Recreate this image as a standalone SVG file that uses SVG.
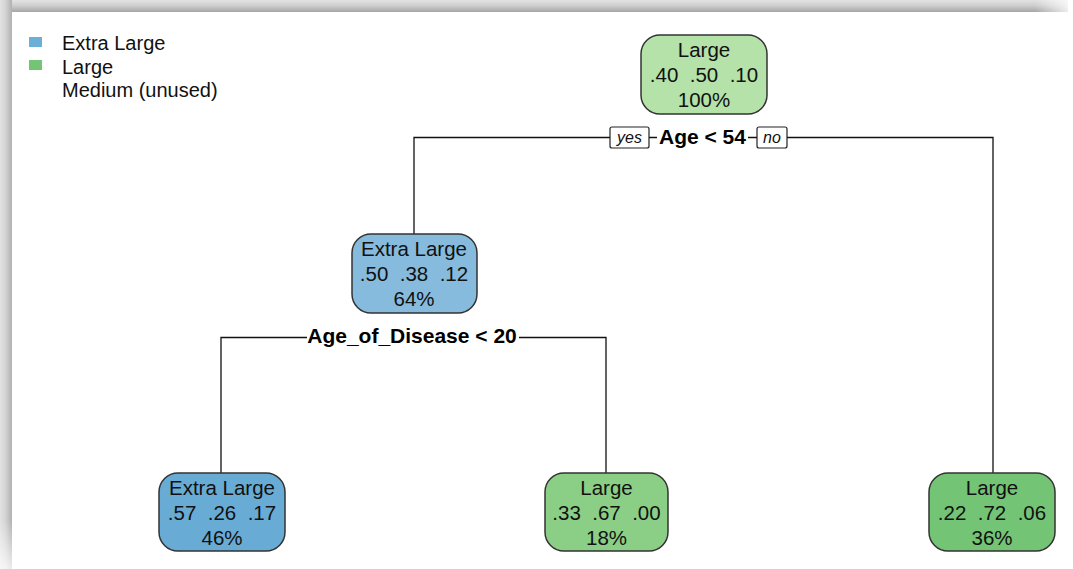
<svg xmlns="http://www.w3.org/2000/svg" width="1073" height="569" viewBox="0 0 1073 569">
<defs>
<linearGradient id="gTop" x1="0" y1="0" x2="0" y2="1">
<stop offset="0" stop-color="#e2e2e2"/><stop offset="0.45" stop-color="#cfcfcf"/><stop offset="1" stop-color="#a6a6a6"/>
</linearGradient>
<linearGradient id="gLeft" x1="0" y1="0" x2="1" y2="0">
<stop offset="0" stop-color="#e2e2e2"/><stop offset="0.45" stop-color="#d4d4d4"/><stop offset="1" stop-color="#b0b0b0"/>
</linearGradient>
<linearGradient id="fadeR" x1="0" y1="0" x2="1" y2="0">
<stop offset="0" stop-color="#fff" stop-opacity="0"/><stop offset="1" stop-color="#fff" stop-opacity="0.9"/>
</linearGradient>
<linearGradient id="fadeB" x1="0" y1="0" x2="0" y2="1">
<stop offset="0" stop-color="#fff" stop-opacity="0"/><stop offset="1" stop-color="#fff" stop-opacity="0.75"/>
</linearGradient>
<style>
.t{font-family:"Liberation Sans",Arial,sans-serif;font-size:20.5px;fill:#111;text-anchor:middle;white-space:pre}
.lg{font-family:"Liberation Sans",Arial,sans-serif;font-size:20px;fill:#111}
.b{font-family:"Liberation Sans",Arial,sans-serif;font-size:21px;font-weight:bold;fill:#000;text-anchor:middle}
.yn{font-family:"Liberation Sans",Arial,sans-serif;font-size:16px;font-style:italic;fill:#111;text-anchor:middle}
.box{stroke:#333;stroke-width:1.5}
.ln{stroke:#111;stroke-width:1.3;fill:none}
</style>
</defs>
<rect x="0" y="0" width="1073" height="569" fill="#fff"/>
<rect x="0" y="0" width="1068" height="12" fill="url(#gTop)"/>
<rect x="1035" y="0" width="38" height="12" fill="url(#fadeR)"/>
<rect x="0" y="0" width="12" height="569" fill="url(#gLeft)"/>
<rect x="0" y="520" width="12" height="49" fill="url(#fadeB)"/>

<g id="legend">
<rect x="29" y="37" width="13" height="10" fill="#6baed6"/>
<rect x="29" y="60" width="13" height="10" fill="#74c476"/>
<text class="lg" x="62" y="50">Extra Large</text>
<text class="lg" x="62" y="74">Large</text>
<text class="lg" x="62" y="97">Medium (unused)</text>
</g>

<g id="connectors">
<path class="ln" d="M414,234 V137.5 H993 V473"/>
<path class="ln" d="M221,473 V337.5 H606 V473"/>
</g>

<g id="split1">
<rect x="657" y="126" width="91" height="22" fill="#fff"/>
<text class="b" x="702.5" y="144">Age &lt; 54</text>
<rect x="610" y="127" width="39" height="21" rx="2" fill="#fff" stroke="#222" stroke-width="1.2"/>
<text class="yn" x="629.5" y="143">yes</text>
<rect x="757" y="127" width="30" height="21" rx="2" fill="#fff" stroke="#222" stroke-width="1.2"/>
<text class="yn" x="772" y="143">no</text>
</g>

<g id="split2">
<rect x="307" y="326" width="212" height="22" fill="#fff"/>
<text class="b" x="412" y="343">Age_of_Disease &lt; 20</text>
</g>

<g id="n1">
<rect class="box" x="641" y="35" width="126" height="79" rx="19" fill="#b4e2a8"/>
<text class="t" x="704" y="57">Large</text>
<text class="t" x="704" y="82">.40  .50  .10</text>
<text class="t" x="704" y="107">100%</text>
</g>

<g id="n2">
<rect class="box" x="352" y="234" width="125" height="79" rx="19" fill="#86bbdd"/>
<text class="t" x="414" y="256">Extra Large</text>
<text class="t" x="414" y="281">.50  .38  .12</text>
<text class="t" x="414" y="306">64%</text>
</g>

<g id="n3">
<rect class="box" x="159" y="473" width="126" height="78" rx="19" fill="#68acd6"/>
<text class="t" x="222" y="495">Extra Large</text>
<text class="t" x="222" y="520">.57  .26  .17</text>
<text class="t" x="222" y="545">46%</text>
</g>

<g id="n4">
<rect class="box" x="545" y="473" width="123" height="78" rx="19" fill="#8bcf87"/>
<text class="t" x="606.5" y="495">Large</text>
<text class="t" x="606.5" y="520">.33  .67  .00</text>
<text class="t" x="606.5" y="545">18%</text>
</g>

<g id="n5">
<rect class="box" x="929" y="473" width="126" height="78" rx="19" fill="#74c476"/>
<text class="t" x="992" y="495">Large</text>
<text class="t" x="992" y="520">.22  .72  .06</text>
<text class="t" x="992" y="545">36%</text>
</g>
</svg>
